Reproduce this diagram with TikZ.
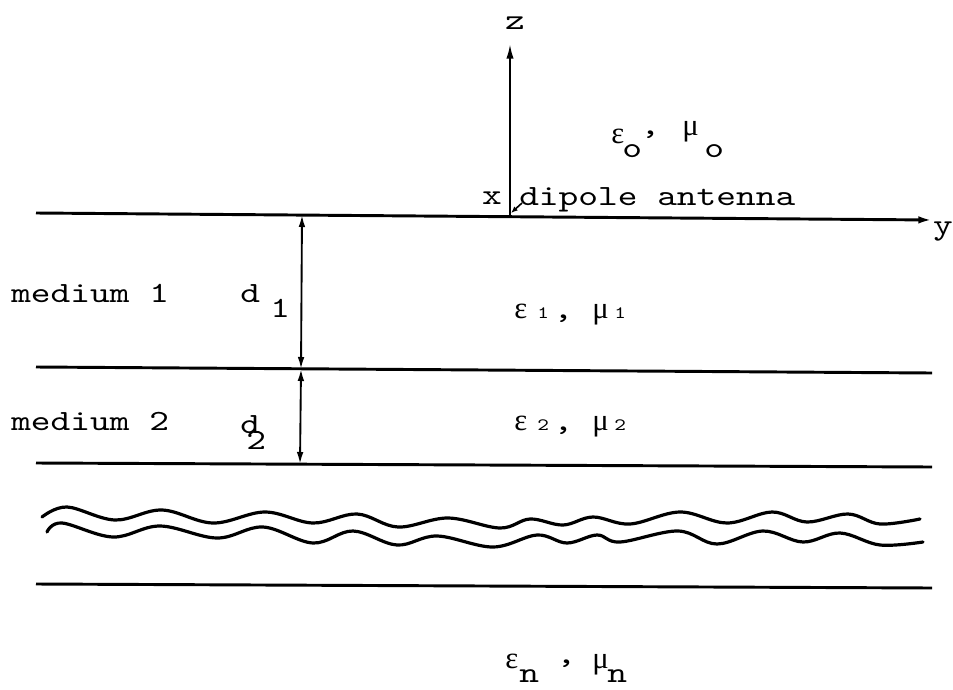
\documentclass[tikz,border=0pt]{standalone}
\usepackage{fontspec}
\newfontfamily\tw{lmmono10-regular.otf}[FakeStretch=1.28]
\newfontfamily\gk{Liberation Serif}
\usetikzlibrary{arrows.meta}
\begin{document}
\begin{tikzpicture}[x=0.75pt,y=-0.75pt,
  lbl/.style={inner sep=0pt, anchor=base west, font=\tw\fontsize{22}{24}\selectfont},
  clbl/.style={inner sep=0pt, font=\tw\fontsize{22}{24}\selectfont},
  glbl/.style={inner sep=0pt, anchor=base west, font=\gk\fontsize{23}{25}\selectfont},
  sml/.style={inner sep=0pt, anchor=base west, font=\tw\fontsize{13}{15}\selectfont},
  layer/.style={line width=2.2pt},
  dimarrow/.style={line width=1.4pt, {Latex[length=9pt,width=5pt]}-{Latex[length=9pt,width=5pt]}},
  axis/.style={line width=1.5pt, -{Latex[length=11pt,width=5.5pt]}},
  wave/.style={line width=2.4pt, line join=round, line cap=round}]
\useasboundingbox (0,0) rectangle (953,689);
% interfaces
\coordinate (L0a) at (36,213); \coordinate (L0b) at (933,220);
\coordinate (L1a) at (36,367); \coordinate (L1b) at (932,373);
\coordinate (L2a) at (36,463); \coordinate (L2b) at (932,467);
\coordinate (L3a) at (36,584); \coordinate (L3b) at (932,588);
\coordinate (O) at (510,215);
\coordinate (Ztop) at (510,44);
\coordinate (D0) at (302,215);
\coordinate (D1) at (301,369);
\coordinate (D2) at (300,464);
\coordinate (Ant) at (522,203);
\coordinate (AntTip) at (511,213);

\draw[axis, line width=2.2pt] (L0a) -- (L0b);
\draw[layer] (L1a) -- (L1b);
\draw[layer] (L2a) -- (L2b);
\draw[layer] (L3a) -- (L3b);
\draw[axis] (O) -- (Ztop);
\draw[dimarrow] (D0) -- (D1);
\draw[dimarrow] (D1) -- (D2);
\draw[line width=1.2pt, -{Latex[length=5pt,width=4pt]}] (Ant) -- (AntTip);

% waves
\draw[wave] plot[smooth, tension=0.6] coordinates {(42,517) (67,507) (115,520) (162,510) (213,523) (265,512) (313,523) (357,514) (398,527) (448,518) (500,528) (530,519) (563,525) (593,517) (630,524) (680,512) (727,523) (772,512) (807,522) (848,514) (880,524) (920,519)};
\draw[wave] plot[smooth, tension=0.6] coordinates {(47,532) (62,523) (113,537) (160,526) (217,538) (263,527) (313,543) (353,531) (397,545) (437,536) (493,547) (537,535) (567,543) (597,535) (620,542) (678,531) (717,544) (763,531) (803,542) (840,533) (880,545) (923,542)};

% labels
\node[clbl] (zl) at (515,23) {z};
\node[clbl] (yl) at (943,232) {y};
\node[clbl] (xl) at (492,198) {x};
\node[lbl] (dip) at (519,205) {dipole antenna};
\node[lbl] (m1) at (11,302) {medium 1};
\node[lbl] (m2) at (11,430) {medium 2};
\node[lbl] (d1) at (240,302) {d};
\node[lbl] (d1s) at (270,317) {1};
\node[lbl] (d2) at (240,433) {d};
\node[lbl] (d2s) at (246,449) {2};
% eps0 mu0
\node[glbl] (e0) at (611,143) {ε};
\node[lbl] (e0s) at (622,157) {o};
\node[lbl] (c0) at (640,134) {,};
\node[glbl] (m0) at (682,135) {μ};
\node[lbl] (m0s) at (704,157) {o};
% eps1 mu1
\node[glbl] (e1) at (514,318) {ε};
\node[sml] (e1s) at (537,318) {1};
\node[lbl] (c1) at (553,318) {,};
\node[glbl] (mu1) at (592,318) {μ};
\node[sml] (mu1s) at (614,318) {1};
% eps2 mu2
\node[glbl] (e2) at (514,430) {ε};
\node[sml] (e2s) at (537,430) {2};
\node[lbl] (c2) at (553,430) {,};
\node[glbl] (mu2) at (592,430) {μ};
\node[sml] (mu2s) at (614,430) {2};
% epsn mun
\node[glbl] (en) at (505,668) {ε};
\node[lbl] (ens) at (519,682) {n};
\node[lbl] (cn) at (556,663) {,};
\node[glbl] (mun) at (592,668) {μ};
\node[lbl] (muns) at (607,682) {n};
\end{tikzpicture}
\end{document}
